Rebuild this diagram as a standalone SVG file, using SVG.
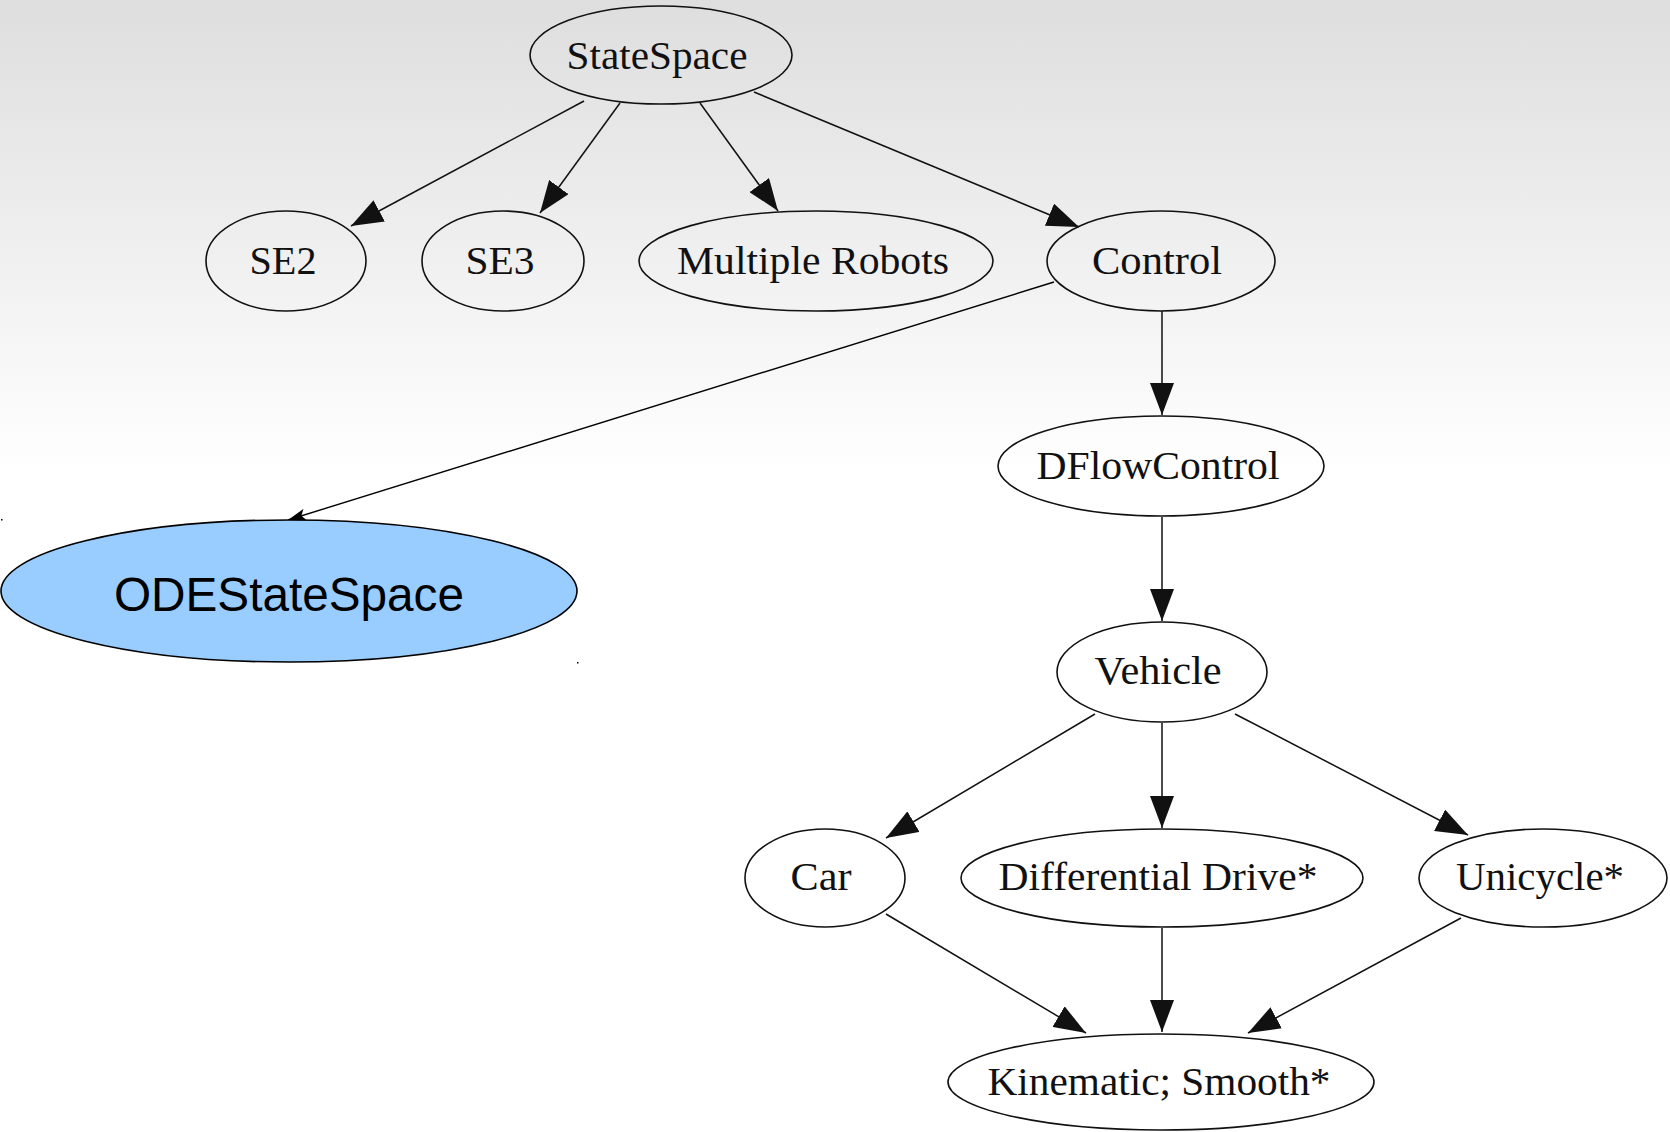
<svg xmlns="http://www.w3.org/2000/svg" width="1670" height="1132" viewBox="0 0 1670 1132">
  <defs>
    <linearGradient id="bg" x1="0" y1="0" x2="0" y2="1132" gradientUnits="userSpaceOnUse">
      <stop offset="0" stop-color="#dedede"/>
      <stop offset="0.42" stop-color="#ffffff"/>
      <stop offset="1" stop-color="#ffffff"/>
    </linearGradient>
    <marker id="head" viewBox="0 0 32 24" refX="32" refY="12" markerWidth="32" markerHeight="24" markerUnits="userSpaceOnUse" orient="auto">
      <path d="M0,0 L32,12 L0,24 Z" fill="#111"/>
    </marker>
    <marker id="thin" viewBox="0 0 18 12" refX="18" refY="6" markerWidth="18" markerHeight="12" markerUnits="userSpaceOnUse" orient="auto">
      <path d="M0,0 L18,6 L0,12 L4,6 Z" fill="#000"/>
    </marker>
  </defs>
  <style>
    .node ellipse { fill: none; stroke: #111; stroke-width: 1.6; }
    .node text { font-family: "Liberation Serif", "Times New Roman", serif; font-size: 40px; fill: #111; text-anchor: middle; }
    .edge { stroke: #111; stroke-width: 1.5; fill: none; marker-end: url(#head); }
    #ode ellipse { fill: #99ccff; stroke: #000; stroke-width: 1.6; }
    #ode text { font-family: "Liberation Sans", Arial, sans-serif; font-size: 48px; fill: #000; text-anchor: middle; }
  </style>

  <rect x="0" y="0" width="1670" height="1132" fill="url(#bg)"/>

  <g id="connectors">
    <line class="edge" x1="584" y1="101" x2="351" y2="226"/>
    <line class="edge" x1="620" y1="103" x2="540" y2="213"/>
    <line class="edge" x1="700" y1="103" x2="778" y2="211"/>
    <line class="edge" x1="754" y1="92" x2="1079" y2="227"/>
    <line class="edge" x1="1162" y1="311" x2="1162" y2="415"/>
    <line class="edge" x1="1162" y1="517" x2="1162" y2="621"/>
    <line class="edge" x1="1095" y1="714" x2="886" y2="838"/>
    <line class="edge" x1="1162" y1="723" x2="1162" y2="828"/>
    <line class="edge" x1="1235" y1="714" x2="1468" y2="835"/>
    <line class="edge" x1="886" y1="914" x2="1086" y2="1033"/>
    <line class="edge" x1="1162" y1="928" x2="1162" y2="1032"/>
    <line class="edge" x1="1461" y1="918" x2="1248" y2="1033"/>
    <line x1="1054" y1="282" x2="288" y2="520" stroke="#000" stroke-width="1.4" marker-end="url(#thin)"/>
  </g>

  <g id="statespace" class="node">
    <ellipse cx="661" cy="55" rx="131" ry="49"/>
    <text x="657" y="69" textLength="181" lengthAdjust="spacingAndGlyphs">StateSpace</text>
  </g>
  <g id="se2" class="node">
    <ellipse cx="286" cy="261" rx="80" ry="50"/>
    <text x="283" y="274" textLength="67" lengthAdjust="spacingAndGlyphs">SE2</text>
  </g>
  <g id="se3" class="node">
    <ellipse cx="503" cy="261" rx="81" ry="50"/>
    <text x="500" y="274" textLength="69" lengthAdjust="spacingAndGlyphs">SE3</text>
  </g>
  <g id="multiple-robots" class="node">
    <ellipse cx="816" cy="261" rx="177" ry="50"/>
    <text x="813" y="274" textLength="272" lengthAdjust="spacingAndGlyphs">Multiple Robots</text>
  </g>
  <g id="control" class="node">
    <ellipse cx="1161" cy="261" rx="114" ry="50"/>
    <text x="1157" y="274" textLength="130" lengthAdjust="spacingAndGlyphs">Control</text>
  </g>
  <g id="dflowcontrol" class="node">
    <ellipse cx="1161" cy="466" rx="163" ry="50"/>
    <text x="1158" y="479" textLength="243" lengthAdjust="spacingAndGlyphs">DFlowControl</text>
  </g>
  <g id="vehicle" class="node">
    <ellipse cx="1162" cy="672" rx="105" ry="50"/>
    <text x="1158" y="684" textLength="127" lengthAdjust="spacingAndGlyphs">Vehicle</text>
  </g>
  <g id="car" class="node">
    <ellipse cx="825" cy="878" rx="80" ry="49"/>
    <text x="821" y="890" textLength="61" lengthAdjust="spacingAndGlyphs">Car</text>
  </g>
  <g id="differential-drive" class="node">
    <ellipse cx="1162" cy="878" rx="201" ry="49"/>
    <text x="1158" y="890" textLength="319" lengthAdjust="spacingAndGlyphs">Differential Drive*</text>
  </g>
  <g id="unicycle" class="node">
    <ellipse cx="1543" cy="878" rx="124" ry="49"/>
    <text x="1540" y="890" textLength="168" lengthAdjust="spacingAndGlyphs">Unicycle*</text>
  </g>
  <g id="kinematic-smooth" class="node">
    <ellipse cx="1161" cy="1082" rx="213" ry="48"/>
    <text x="1159" y="1095" textLength="343" lengthAdjust="spacingAndGlyphs">Kinematic; Smooth*</text>
  </g>
  <g id="ode">
    <ellipse cx="289" cy="591" rx="288" ry="71"/>
    <text x="289" y="611" textLength="350" lengthAdjust="spacingAndGlyphs">ODEStateSpace</text>
  </g>
  <rect x="1" y="519" width="1.5" height="1.5" fill="#000"/>
  <rect x="577" y="662" width="1.5" height="1.5" fill="#000"/>
</svg>
